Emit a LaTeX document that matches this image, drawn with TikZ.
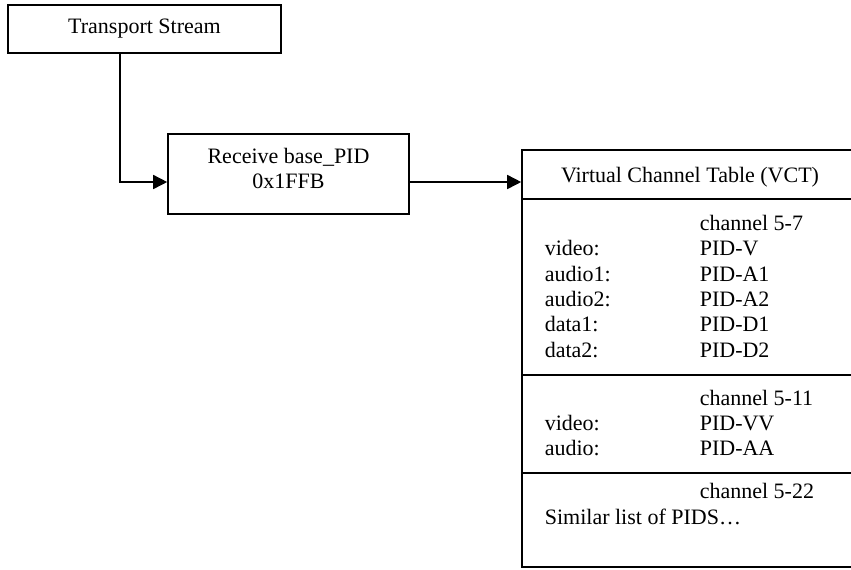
\documentclass[tikz,border=0pt]{standalone}
\usepackage{fontspec}
\setmainfont{Liberation Serif}
\usetikzlibrary{arrows.meta}

\begin{document}
\begin{tikzpicture}[
        x=0.5pt, y=-0.5pt, line width=0.8pt,
        every node/.style={font=\fontsize{11}{12.5}\selectfont},
        box/.style={draw, inner sep=0pt},
        entry/.style={anchor=base west, inner sep=0pt},
        flow/.style={-{Triangle[length=7pt,width=7pt]}}]

        \useasboundingbox (0,0) rectangle (851,569);

        % boxes on the left
        \node[box, minimum width=136.5pt, minimum height=24pt] (ts) at (144.5,29) {Transport Stream};
        \node[box, minimum width=120.5pt, minimum height=40pt] (recv) at (288.5,174) {};
        \node[align=center, inner sep=0pt] (recvtxt) at (288.5,168) {Receive base\_PID\\0x1FFB};

        % the table
        \node[box, minimum width=168pt, minimum height=208.5pt] (vct) at (690,358.5) {};
        \node[anchor=base, inner sep=0pt] (vcttitle) at (690,182) {Virtual Channel Table (VCT)};
        \draw (vct.west |- 0,199) -- (vct.east |- 0,199);
        \draw (vct.west |- 0,375) -- (vct.east |- 0,375);
        \draw (vct.west |- 0,473) -- (vct.east |- 0,473);

        \node[entry] (ch1) at (699,230) {channel 5-7};
        \node[entry] (v1) at (544,255) {video:};
        \node[entry] (pv1) at (699,255) {PID-V};
        \node[entry] (a1) at (544,281) {audio1:};
        \node[entry] (pa1) at (699,281) {PID-A1};
        \node[entry] (a2) at (544,306) {audio2:};
        \node[entry] (pa2) at (699,306) {PID-A2};
        \node[entry] (d1) at (544,331) {data1:};
        \node[entry] (pd1) at (699,331) {PID-D1};
        \node[entry] (d2) at (544,357) {data2:};
        \node[entry] (pd2) at (699,357) {PID-D2};

        \node[entry] (ch2) at (699,405) {channel 5-11};
        \node[entry] (v2) at (544,430) {video:};
        \node[entry] (pv2) at (699,430) {PID-VV};
        \node[entry] (a3) at (544,455) {audio:};
        \node[entry] (pa3) at (699,455) {PID-AA};

        \node[entry] (ch3) at (699,498) {channel 5-22};
        \node[entry] (sim) at (544,524) {Similar list of PIDS…};

        % connectors
        \coordinate (recvin) at ([yshift=-4pt]recv.west);
        \coordinate (recvout) at ([yshift=-4pt]recv.east);
        \draw[flow] ([xshift=56.5pt]ts.south west) |- (recvin);
        \draw[flow] (recvout) -- (recvout -| vct.west);

    \end{tikzpicture}
\end{document}
